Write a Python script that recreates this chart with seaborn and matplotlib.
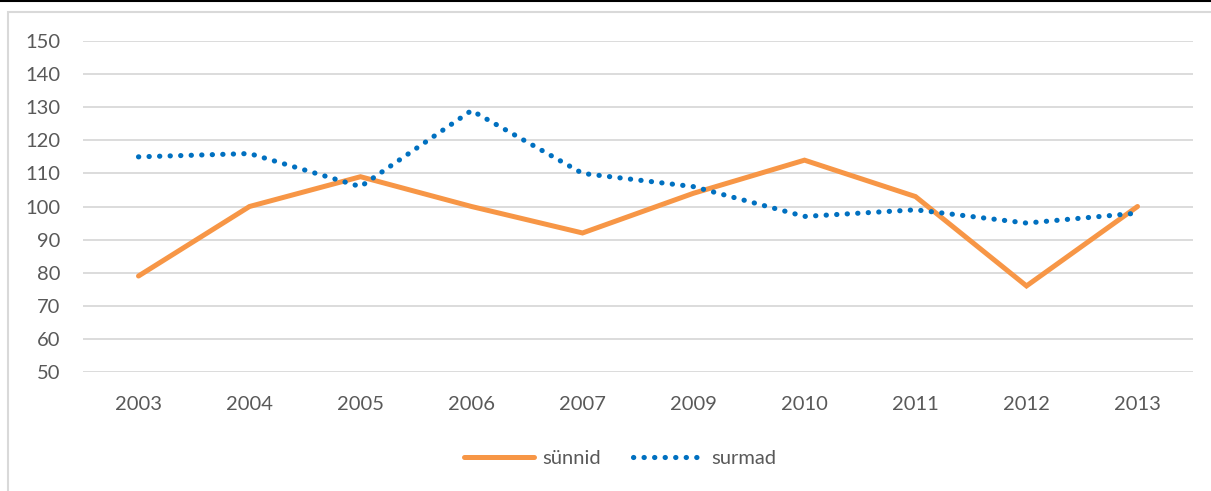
import matplotlib
matplotlib.use("Agg")
import matplotlib.pyplot as plt
from matplotlib.patches import Rectangle
from matplotlib.lines import Line2D
import seaborn as sns
import pandas as pd

years = ["2003", "2004", "2005", "2006", "2007", "2009", "2010", "2011", "2012", "2013"]
sunnid = [79, 100, 109, 100, 92, 104, 114, 103, 76, 100]
surmad = [115, 116, 106, 129, 110, 106, 97, 99, 95, 98]
yticks = [50, 60, 70, 80, 90, 100, 110, 120, 130, 140, 150]

sns.set_theme(style="white")
plt.rcParams['font.family'] = ['Lato', 'DejaVu Sans']

orange = "#F79646"
blue = "#0070C0"
grey_txt = "#595959"
fs = 14.5

fig = plt.figure(figsize=(12.11, 4.91), dpi=100)
ax = fig.add_axes([83/1211, 1-372/491, (1193-83)/1211, (372-41)/491])

# frame decorations
fig.add_artist(Line2D([0, 1], [1-0.5/491, 1-0.5/491], transform=fig.transFigure, color="black", lw=1.5))
fig.add_artist(Rectangle((8/1211, -0.05), 1.2, 1-12/491+0.05, transform=fig.transFigure,
                         fill=False, edgecolor="#D9D9D9", lw=1.5))

df = pd.DataFrame({"year": years, "sünnid": sunnid, "surmad": surmad})

sns.lineplot(data=df, x="year", y="sünnid", ax=ax, color=orange, lw=3.6, sort=False,
             label="sünnid", solid_capstyle="round", solid_joinstyle="miter")
sns.lineplot(data=df, x="year", y="surmad", ax=ax, color=blue, lw=3.7, sort=False,
             label="surmad", dash_capstyle="round", linestyle=(0, (0.05, 2.0)))

ax.set_xlim(-0.5, len(years) - 0.5)
ax.set_ylim(50, 150)
ax.set_yticks(yticks)
ax.yaxis.grid(True, color="#D9D9D9", lw=1.3)
ax.xaxis.grid(False)
for s in ax.spines.values():
    s.set_visible(False)
ax.set_xlabel("")
ax.set_ylabel("")
ax.tick_params(axis="both", length=0, labelsize=fs, labelcolor=grey_txt)
ax.tick_params(axis="x", pad=17)
ax.tick_params(axis="y", pad=16.5)
for lab in ax.get_yticklabels():
    lab.set_horizontalalignment("right")

leg = ax.legend(loc="center", bbox_to_anchor=(0.484, 1-(458-41)/(372-41)), ncol=2, frameon=False,
                fontsize=fs, handlelength=3.5, columnspacing=1.6, handletextpad=0.4)
for t in leg.get_texts():
    t.set_color(grey_txt)

fig.savefig("out.png", dpi=100)
